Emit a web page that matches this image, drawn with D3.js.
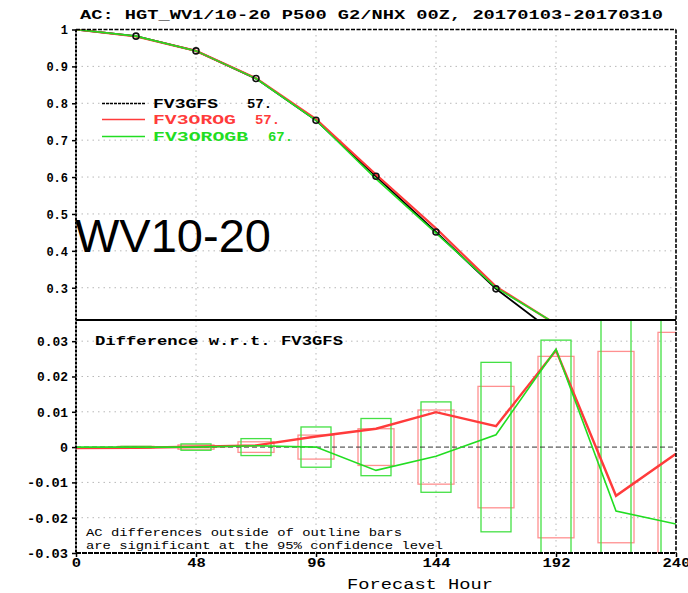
<!DOCTYPE html>
<html>
<head>
<meta charset="utf-8">
<script src="https://cdn.jsdelivr.net/npm/d3@7"></script>
<style>
  html, body { margin: 0; padding: 0; background: #fff; }
  svg { display: block; }
</style>
</head>
<body>
<svg id="chart" width="688" height="593"></svg>
<script>
// ---------------- data ----------------
const hours = [0, 24, 48, 72, 96, 120, 144, 168, 192, 216, 240];
const xTicks = [0, 48, 96, 144, 192, 240];
const topTicks = [0.3, 0.4, 0.5, 0.6, 0.7, 0.8, 0.9, 1];
const topTickLabels = ["0.3", "0.4", "0.5", "0.6", "0.7", "0.8", "0.9", "1"];
const botTicks = [-0.03, -0.02, -0.01, 0, 0.01, 0.02, 0.03];
const botTickLabels = ["-0.03", "-0.02", "-0.01", "0", "0.01", "0.02", "0.03"];

const seriesNames = ["FV3GFS", "FV3OROG", "FV3OROGB"];
const seriesCounts = ["57.", "57.", "67."];

const acFV3GFS   = [1.000, 0.982, 0.942, 0.867, 0.754, 0.602, 0.451, 0.297, 0.174, 0.110, 0.060];
const acFV3OROG  = [1.000, 0.981, 0.942, 0.868, 0.757, 0.607, 0.461, 0.303, 0.201, 0.096, 0.058];
const acFV3OROGB = [1.000, 0.982, 0.942, 0.867, 0.754, 0.595, 0.448, 0.300, 0.202, 0.092, 0.038];

const diffFV3OROG  = [-0.0003, -0.0002, 0.0001, 0.0005, 0.0030, 0.0052, 0.0099, 0.0059, 0.0274, -0.0138, -0.0019];
const diffFV3OROGB = [0.0000, 0.0000, 0.0000, 0.0004, 0.0000, -0.0066, -0.0026, 0.0035, 0.0277, -0.0181, -0.0218];

// half-height of significance boxes (centered on zero)
const sigFV3OROG  = [0.0000, 0.0002, 0.0006, 0.0015, 0.0034, 0.0052, 0.0105, 0.0172, 0.0257, 0.0271, 0.0325];
const sigFV3OROGB = [0.0000, 0.0002, 0.0009, 0.0024, 0.0057, 0.0081, 0.0128, 0.0240, 0.0303, 0.0380, 0.0420];

const titleText = "AC: HGT_WV1/10-20 P500 G2/NHX 00Z, 20170103-20170310";
const diffTitle = "Difference w.r.t. FV3GFS";
const noteLines = ["AC differences outside of outline bars", "are significant at the 95% confidence level"];
const xLabel = "Forecast Hour";
const bigLabel = "WV10-20";

// ---------------- layout ----------------
const svg = d3.select("#chart");
const L = 76, R = 676;
const topY0 = 29.5, topY1 = 320;
const botY0 = 320, botY1 = 553;

const x = d3.scaleLinear().domain([0, 240]).range([L, R]);
const yTop = d3.scaleLinear().domain([0.2125, 1]).range([topY1, topY0]);
const yBot = d3.scaleLinear().domain([-0.03, 0.036]).range([botY1, botY0]);

const mono = "'Liberation Mono', 'DejaVu Sans Mono', monospace";
const RED = "#ff3b3b", GREEN = "#22dd22", RED_BOX = "#ff9090", GREEN_BOX = "#44e044";

const defs = svg.append("defs");
defs.append("clipPath").attr("id", "clipTop").append("rect")
  .attr("x", L).attr("y", topY0).attr("width", R - L).attr("height", topY1 - topY0);
defs.append("clipPath").attr("id", "clipBot").append("rect")
  .attr("x", L).attr("y", botY0).attr("width", R - L).attr("height", botY1 - botY0);

function txt(g, s, opts) {
  const t = g.append("text").text(s)
    .attr("x", opts.x).attr("y", opts.y)
    .attr("font-family", opts.family || mono)
    .attr("font-size", opts.size || 12)
    .attr("font-weight", opts.bold ? "bold" : "normal")
    .attr("fill", opts.fill || "#000")
    .attr("text-anchor", opts.anchor || "start");
  if (opts.len) t.attr("textLength", opts.len).attr("lengthAdjust", "spacingAndGlyphs");
  return t;
}

// ---------------- grids ----------------
const gridColor = "#b8b8b8";
const gTopGrid = svg.append("g");
gTopGrid.selectAll("line.h").data(topTicks.filter(d => d < 1)).join("line")
  .attr("x1", L).attr("x2", R).attr("y1", d => yTop(d)).attr("y2", d => yTop(d))
  .attr("stroke", gridColor).attr("stroke-width", 1).attr("stroke-dasharray", "1.5,4");
gTopGrid.selectAll("line.v").data(xTicks.filter(d => d > 0 && d < 240)).join("line")
  .attr("x1", d => x(d)).attr("x2", d => x(d)).attr("y1", topY0).attr("y2", topY1)
  .attr("stroke", gridColor).attr("stroke-width", 1).attr("stroke-dasharray", "1.5,4");

const gBotGrid = svg.append("g");
gBotGrid.selectAll("line.h").data(botTicks.filter(d => d !== 0 && d > -0.03)).join("line")
  .attr("x1", L).attr("x2", R).attr("y1", d => yBot(d)).attr("y2", d => yBot(d))
  .attr("stroke", gridColor).attr("stroke-width", 1).attr("stroke-dasharray", "1.5,4");
gBotGrid.selectAll("line.v").data(xTicks.filter(d => d > 0 && d < 240)).join("line")
  .attr("x1", d => x(d)).attr("x2", d => x(d)).attr("y1", botY0).attr("y2", botY1)
  .attr("stroke", gridColor).attr("stroke-width", 1).attr("stroke-dasharray", "1.5,4");

// ---------------- top panel lines ----------------
const gTop = svg.append("g").attr("clip-path", "url(#clipTop)");
const lineTop = d3.line().x((d, i) => x(hours[i])).y(d => yTop(d));
gTop.append("path").datum(acFV3GFS).attr("d", lineTop)
  .attr("fill", "none").attr("stroke", "#000").attr("stroke-width", 1.8);
gTop.append("path").datum(acFV3OROG).attr("d", lineTop)
  .attr("fill", "none").attr("stroke", RED).attr("stroke-width", 2.2);
gTop.append("path").datum(acFV3OROGB).attr("d", lineTop)
  .attr("fill", "none").attr("stroke", GREEN).attr("stroke-width", 1.6);
gTop.selectAll("circle").data(acFV3GFS.slice(1, 8)).join("circle")
  .attr("cx", (d, i) => x(hours[i + 1])).attr("cy", d => yTop(d)).attr("r", 3)
  .attr("fill", "none").attr("stroke", "#111").attr("stroke-width", 1.6);

// legend
const legColors = ["#000", RED, GREEN];
const legY = [103.5, 119.5, 136.5];
const legNameLen = [65, 83, 95];
const legCountX = [247, 255, 268];
seriesNames.forEach((n, i) => {
  svg.append("line").attr("x1", 102).attr("x2", 145).attr("y1", legY[i]).attr("y2", legY[i])
    .attr("stroke", legColors[i]).attr("stroke-width", 1.5)
    .attr("stroke-dasharray", i === 0 ? "3,1" : null);
  txt(svg, n, {x: 153, y: legY[i] + 4.5, size: 12, bold: true, fill: legColors[i], len: legNameLen[i]});
  txt(svg, seriesCounts[i], {x: legCountX[i], y: legY[i] + 4.5, size: 12, bold: true, fill: legColors[i], len: 25});
});

// big label
txt(svg, bigLabel, {x: 75, y: 252, size: 47, family: "'Liberation Sans', Arial, sans-serif"});

// ---------------- bottom panel ----------------
const gBot = svg.append("g").attr("clip-path", "url(#clipBot)");
// significance boxes
const redHalfW = 7.2, greenHalfW = 6;
gBot.selectAll("rect.red").data(sigFV3OROG).join("rect")
  .attr("x", (d, i) => x(hours[i] - redHalfW)).attr("width", (d, i) => x(hours[i] + redHalfW) - x(hours[i] - redHalfW))
  .attr("y", d => yBot(d)).attr("height", d => yBot(-d) - yBot(d))
  .attr("fill", "none").attr("stroke", RED_BOX).attr("stroke-width", 1.3)
  .attr("display", d => d > 0 ? null : "none");
gBot.selectAll("rect.green").data(sigFV3OROGB).join("rect")
  .attr("x", (d, i) => x(hours[i] - greenHalfW)).attr("width", (d, i) => x(hours[i] + greenHalfW) - x(hours[i] - greenHalfW))
  .attr("y", d => yBot(d)).attr("height", d => yBot(-d) - yBot(d))
  .attr("fill", "none").attr("stroke", GREEN_BOX).attr("stroke-width", 1.3)
  .attr("display", d => d > 0 ? null : "none");
// zero line
gBot.append("line").attr("x1", L).attr("x2", R).attr("y1", yBot(0)).attr("y2", yBot(0))
  .attr("stroke", "#333").attr("stroke-width", 1).attr("stroke-dasharray", "5,3");
const lineBot = d3.line().x((d, i) => x(hours[i])).y(d => yBot(d));
gBot.append("path").datum(diffFV3OROG).attr("d", lineBot)
  .attr("fill", "none").attr("stroke", RED).attr("stroke-width", 2.4);
gBot.append("path").datum(diffFV3OROGB).attr("d", lineBot)
  .attr("fill", "none").attr("stroke", GREEN).attr("stroke-width", 1.6);

txt(svg, diffTitle, {x: 95, y: 345, size: 13, bold: true, len: 248});
txt(svg, noteLines[0], {x: 86, y: 535.5, size: 10.5, len: 316});
txt(svg, noteLines[1], {x: 86, y: 548.5, size: 10.5, len: 357});

// ---------------- frames ----------------
const frame = svg.append("g").attr("fill", "none").attr("stroke", "#000");
frame.append("line").attr("x1", L).attr("x2", R).attr("y1", topY0).attr("y2", topY0)
  .attr("stroke-width", 1.6).attr("stroke-dasharray", "4,1.5");
frame.append("line").attr("x1", R).attr("x2", R).attr("y1", topY0).attr("y2", botY1)
  .attr("stroke-width", 1.6).attr("stroke-dasharray", "4,1.5");
frame.append("line").attr("x1", L).attr("x2", L).attr("y1", topY0).attr("y2", botY1)
  .attr("stroke-width", 2).attr("stroke-dasharray", "3,1");
frame.append("line").attr("x1", L).attr("x2", R).attr("y1", topY1).attr("y2", topY1)
  .attr("stroke-width", 1.8);
frame.append("line").attr("x1", L).attr("x2", R).attr("y1", botY1).attr("y2", botY1)
  .attr("stroke-width", 1.8).attr("stroke-dasharray", "5,1");

// ---------------- axes ----------------
const axTop = svg.append("g").attr("transform", `translate(${L},0)`)
  .call(d3.axisLeft(yTop).tickValues(topTicks).tickSize(4).tickFormat((d, i) => topTickLabels[i]));
const axBot = svg.append("g").attr("transform", `translate(${L},0)`)
  .call(d3.axisLeft(yBot).tickValues(botTicks).tickSize(4).tickFormat((d, i) => botTickLabels[i]));
const axX = svg.append("g").attr("transform", `translate(0,${botY1})`)
  .call(d3.axisBottom(x).tickValues(xTicks).tickSize(4).tickFormat(d => String(d)));
[axTop, axBot, axX].forEach(a => {
  a.select(".domain").remove();
  a.selectAll(".tick line").attr("stroke", "#000").attr("stroke-width", 1.5);
  a.selectAll(".tick text").attr("font-family", mono).attr("font-weight", "bold")
    .attr("font-size", 12).attr("fill", "#000");
});
axTop.selectAll(".tick text").attr("x", -8).attr("dy", "0.36em");
axBot.selectAll(".tick text").attr("x", -8).attr("dy", "0.36em")
  .attr("textLength", function () { return this.textContent.length === 5 ? 41 : (this.textContent.length === 4 ? 31 : 8); })
  .attr("lengthAdjust", "spacingAndGlyphs");
axX.selectAll(".tick text").attr("y", 5.5)
  .attr("textLength", function () { return this.textContent.length * 9.3; })
  .attr("lengthAdjust", "spacingAndGlyphs");

// titles
txt(svg, titleText, {x: 80, y: 19, size: 13, bold: true, len: 583});
txt(svg, xLabel, {x: 347, y: 589, size: 14, len: 146});
</script>
</body>
</html>
